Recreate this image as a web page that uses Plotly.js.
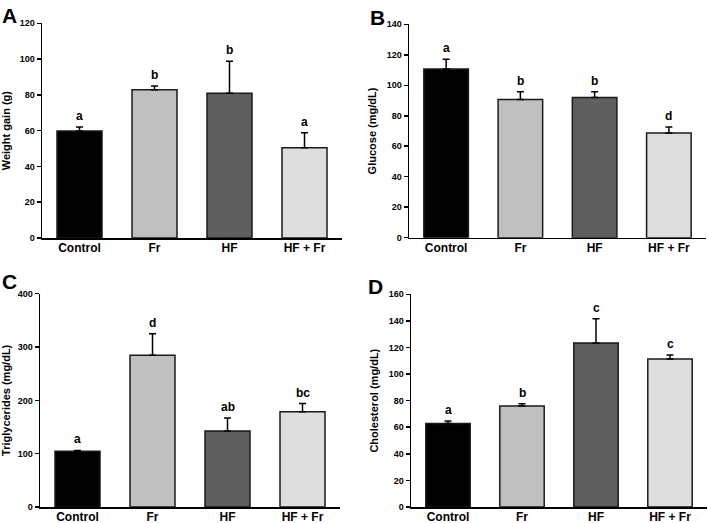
<!DOCTYPE html>
<html>
<head>
<meta charset="utf-8">
<script src="https://cdn.plot.ly/plotly-3.0.1.min.js"></script>
<style>html,body{margin:0;padding:0;background:#fff;}#chart{width:708px;height:523px;}</style>
</head>
<body>
<div id="chart"></div>
<script>
// ---- data ----
const categories = ['Control', 'Fr', 'HF', 'HF + Fr'];
const barColors = ['#000000', '#c0c0c0', '#5f5f5f', '#dedede'];

const weightGain = [59.8, 82.8, 80.9, 50.4];
const weightGainErr = [2.2, 2.2, 17.9, 8.4];
const weightGainLetters = ['a', 'b', 'b', 'a'];

const glucose = [110.7, 90.7, 91.9, 68.7];
const glucoseErr = [6.3, 5.1, 3.9, 3.9];
const glucoseLetters = ['a', 'b', 'b', 'd'];

const triglycerides = [104.4, 284.4, 142.5, 178.8];
const triglyceridesErr = [1.6, 40.6, 24.5, 15.2];
const triglyceridesLetters = ['a', 'd', 'ab', 'bc'];

const cholesterol = [62.9, 75.9, 123.3, 111.3];
const cholesterolErr = [1.8, 1.8, 18.3, 3.0];
const cholesterolLetters = ['a', 'b', 'c', 'c'];

const panelLabels = ['A', 'B', 'C', 'D'];
const yTitles = ['Weight gain (g)', 'Glucose (mg/dL)', 'Triglycerides (mg/dL)', 'Cholesterol (mg/dL)'];
const yMax = [120, 140, 400, 160];
const yStep = [20, 20, 100, 20];

// ---- layout geometry (pixels) ----
const W = 708, H = 523;
const FONT = 'Liberation Sans, Arial, sans-serif';
const panels = [
  {vals: weightGain, err: weightGainErr, letters: weightGainLetters, x0: 42, x1: 342, yTop: 23.3, yBot: 238, lab: [0, 2]},
  {vals: glucose, err: glucoseErr, letters: glucoseLetters, x0: 409, x1: 706, yTop: 24.3, yBot: 237.7, lab: [368, 4]},
  {vals: triglycerides, err: triglyceridesErr, letters: triglyceridesLetters, x0: 40, x1: 340, yTop: 293.7, yBot: 507, lab: [0, 268]},
  {vals: cholesterol, err: cholesterolErr, letters: cholesterolLetters, x0: 411, x1: 707, yTop: 294.3, yBot: 507, lab: [366, 273]}
];

const traces = [];
const layout = {
  width: W, height: H,
  margin: {l: 0, r: 0, t: 0, b: 0},
  paper_bgcolor: '#ffffff', plot_bgcolor: '#ffffff',
  showlegend: false,
  font: {family: FONT, color: '#000', weight: 'bold'},
  annotations: []
};

panels.forEach((p, i) => {
  const n = i === 0 ? '' : String(i + 1);
  traces.push({
    type: 'bar',
    x: categories, y: p.vals,
    xaxis: 'x' + n, yaxis: 'y' + n,
    width: 0.6,
    marker: {color: barColors, line: {color: '#1a1a1a', width: 1.5}},
    error_y: {type: 'data', symmetric: false, array: p.err, arrayminus: p.err.map(() => 0),
              color: '#000', thickness: 1.5, width: 3.5},
    hoverinfo: 'x+y'
  });
  layout['xaxis' + n] = {
    domain: [p.x0 / W, p.x1 / W], anchor: 'y' + n,
    type: 'category', range: [-0.5, 3.5],
    showline: true, linecolor: '#000', linewidth: 1.5,
    showgrid: false, zeroline: false, ticks: '',
    ticklabelstandoff: -2,
    tickfont: {family: FONT, size: 12, color: '#000', weight: 'bold'},
    fixedrange: true
  };
  layout['yaxis' + n] = {
    domain: [(H - p.yBot) / H, (H - p.yTop) / H], anchor: 'x' + n,
    range: [0, yMax[i]], dtick: yStep[i], tick0: 0,
    showline: true, linecolor: '#000', linewidth: 1.5,
    showgrid: false, zeroline: false,
    ticks: 'outside', ticklen: 4, tickwidth: 1.5, tickcolor: '#000',
    tickfont: {family: FONT, size: 9, color: '#000', weight: 'bold'},
    title: {text: yTitles[i], font: {family: FONT, size: 11, color: '#000', weight: 'bold'}, standoff: 8},
    fixedrange: true
  };
  categories.forEach((c, k) => {
    layout.annotations.push({
      xref: 'x' + n, yref: 'y' + n, x: c, y: p.vals[k] + p.err[k],
      text: p.letters[k], showarrow: false, yanchor: 'bottom', yshift: 2,
      font: {family: FONT, size: 12, color: '#000', weight: 'bold'}
    });
  });
  layout.annotations.push({
    xref: 'paper', yref: 'paper', x: p.lab[0] / W, y: 1 - p.lab[1] / H,
    xanchor: 'left', yanchor: 'top', showarrow: false,
    text: panelLabels[i],
    font: {family: FONT, size: 21, color: '#000', weight: 'bold'}
  });
});

Plotly.newPlot('chart', traces, layout, {displayModeBar: false, staticPlot: true});
</script>
</body>
</html>
